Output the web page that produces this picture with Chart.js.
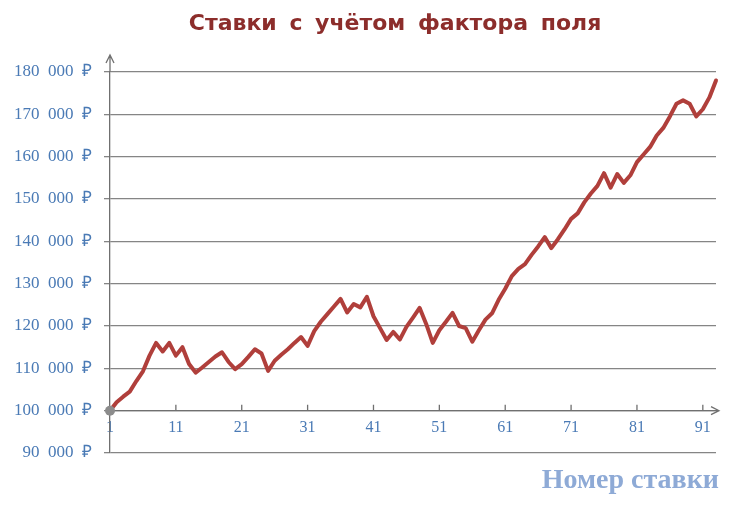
<!DOCTYPE html>
<html>

<head>
    <title>Ставки с учётом фактора поля</title>
    <script src="https://cdn.jsdelivr.net/npm/chart.js"></script>
    <style>
        body { margin: 0; background: #fff; }
        .wrap { width: 730px; height: 506px; }
    </style>
</head>

<body>
    <div class="wrap"><canvas id="chart" width="730" height="506"></canvas></div>
    <script>
        // bet values, bets 1..93
        var bets = [];
        for (var n = 1; n <= 93; n++) bets.push(String(n));

        var bank = [
            100000, 102000, 103300, 104500, 107000, 109300, 113000, 116000, 114000, 116000,
            113000, 115000, 111000, 109000, 110200, 111500, 112800, 113800, 111500, 109800,
            111000, 112700, 114500, 113500, 109400, 111800, 113200, 114500, 116000, 117400,
            115300, 118800, 121000, 122800, 124600, 126400, 123200, 125200, 124400, 126900,
            122300, 119500, 116700, 118600, 116800, 119800, 122000, 124300, 120500, 116000,
            119000, 121000, 123100, 120000, 119500, 116300, 119000, 121500, 123000, 126200,
            128800, 131800, 133500, 134600, 136800, 138800, 141000, 138400, 140500, 142800,
            145300, 146600, 149200, 151300, 153100, 156100, 152700, 155900, 153800, 155600,
            158700, 160500, 162300, 165000, 166800, 169500, 172500, 173300, 172500, 169500,
            171200, 174000, 178000
        ];

        var yTicks = [90000, 100000, 110000, 120000, 130000, 140000, 150000, 160000, 170000, 180000];

        var blue = '#4a7ab5';
        var gridCol = '#858585';

        function rub(v) {
            return String(v).replace(/\B(?=(\d{3})+(?!\d))/g, '\u2002') + '\u2002₽';
        }

        var decor = {
            id: 'decor',
            afterDraw: function (chart) {
                var c = chart.ctx;
                var xs = chart.scales.x, ys = chart.scales.y;
                var a = chart.chartArea;
                var y0 = ys.getPixelForValue(100000);
                c.save();
                c.strokeStyle = '#707070';
                c.lineWidth = 1.3;
                // y axis arrow
                c.beginPath();
                c.moveTo(a.left, a.top);
                c.lineTo(a.left, a.top - 17);
                c.moveTo(a.left - 4, a.top - 9);
                c.lineTo(a.left, a.top - 17);
                c.lineTo(a.left + 4, a.top - 9);
                c.stroke();
                // x axis arrow
                c.beginPath();
                c.moveTo(a.right, y0);
                c.lineTo(a.right + 3, y0);
                c.moveTo(a.right - 5, y0 - 4);
                c.lineTo(a.right + 3, y0);
                c.lineTo(a.right - 5, y0 + 4);
                c.stroke();
                // upward tick marks on x axis
                c.beginPath();
                bets.forEach(function (b, i) {
                    if (i % 10 === 0 && i > 0) {
                        var px = xs.getPixelForValue(i);
                        c.moveTo(px, y0);
                        c.lineTo(px, y0 - 6);
                    }
                });
                c.stroke();
                // titles
                c.fillStyle = '#8c2d2b';
                c.font = 'bold 22px "DejaVu Sans"';
                c.textAlign = 'center';
                c.textBaseline = 'alphabetic';
                c.wordSpacing = '5px';
                c.fillText('Ставки с учётом фактора поля', 395, 30);
                c.wordSpacing = '0px';
                c.fillStyle = '#8eaad6';
                c.font = 'bold 28px "Liberation Serif"';
                c.textAlign = 'right';
                c.fillText('Номер ставки', 719, 488);
                c.restore();
            }
        };

        new Chart(document.getElementById('chart').getContext('2d'), {
            type: 'line',
            data: {
                labels: bets,
                datasets: [{
                    data: bank,
                    borderColor: '#b03f3b',
                    borderWidth: 4,
                    borderJoinStyle: 'round',
                    borderCapStyle: 'round',
                    tension: 0,
                    pointRadius: function (ctx) { return ctx.dataIndex === 0 ? 5 : 0; },
                    pointBackgroundColor: '#8c8c8c',
                    pointBorderColor: '#8c8c8c',
                    pointBorderWidth: 0,
                    clip: false
                }]
            },
            options: {
                responsive: false,
                animation: false,
                layout: { padding: { top: 72, right: 14, bottom: 53, left: 0 } },
                plugins: {
                    legend: { display: false },
                    tooltip: { enabled: false },
                    title: { display: false }
                },
                scales: {
                    x: {
                        type: 'category',
                        position: { y: 100000 },
                        offset: false,
                        grid: { drawOnChartArea: false, drawTicks: false },
                        border: { display: true, color: '#707070', width: 1.3 },
                        ticks: {
                            autoSkip: false,
                            maxRotation: 0,
                            padding: 8,
                            color: blue,
                            font: { family: '"Liberation Serif"', size: 16 },
                            callback: function (v, i) { return i % 10 === 0 ? bets[i] : ''; }
                        }
                    },
                    y: {
                        min: 90000,
                        max: 180000,
                        afterFit: function (s) { s.width = 110; },
                        afterBuildTicks: function (s) { s.ticks = yTicks.map(function (v) { return { value: v }; }); },
                        grid: { color: gridCol, lineWidth: 1.3, tickLength: 6 },
                        border: { display: true, color: '#707070', width: 1.3 },
                        ticks: {
                            padding: 12,
                            color: blue,
                            font: { family: '"Liberation Serif"', size: 17 },
                            callback: function (v) { return rub(v); }
                        }
                    }
                }
            },
            plugins: [decor]
        });
    </script>
</body>

</html>
